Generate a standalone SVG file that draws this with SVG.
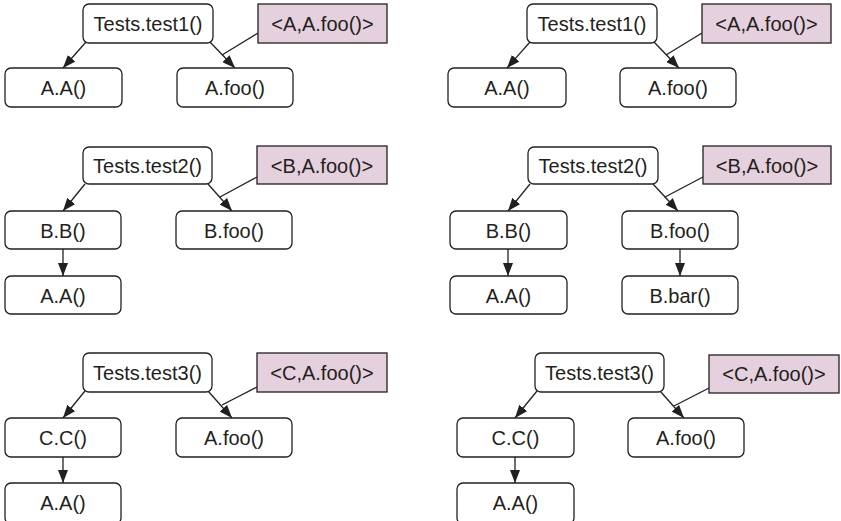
<svg xmlns="http://www.w3.org/2000/svg" width="841" height="521" viewBox="0 0 841 521">
<style>
.n rect{fill:#fff;stroke:#231f20;stroke-width:1.3}
.a rect{fill:#e5d1dd;stroke:#231f20;stroke-width:1.3}
text{font-family:"Liberation Sans",Arial,sans-serif;font-size:20px;fill:#231f20;text-anchor:middle}
.c line{stroke:#231f20;stroke-width:1.3}
.c .e{marker-end:url(#ah)}
</style>
<defs>
<marker id="ah" markerUnits="userSpaceOnUse" markerWidth="13" markerHeight="10" viewBox="0 0 13 10" refX="13" refY="5" orient="auto">
<path d="M0,0 L13,5 L0,10 z" fill="#231f20"/>
</marker>
</defs>
<rect width="841" height="521" fill="#fff"/>

<!-- Panel 1 left -->
<g id="p1l">
<g class="c" id="p1l-conn">
<line class="e" x1="86" y1="42" x2="63" y2="68"/>
<line class="e" x1="210" y1="42" x2="235" y2="68"/>
<line x1="258" y1="33" x2="222" y2="55"/>
</g>
<g class="n" id="p1l-test1"><rect x="83" y="4" width="130" height="39" rx="6"/><text x="148" y="31">Tests.test1()</text></g>
<g class="a" id="p1l-ann"><rect x="258" y="4" width="129" height="39"/><text x="322.5" y="31">&lt;A,A.foo()&gt;</text></g>
<g class="n" id="p1l-AA"><rect x="5" y="68" width="117" height="39" rx="6"/><text x="63.5" y="95">A.A()</text></g>
<g class="n" id="p1l-Afoo"><rect x="177" y="68" width="116" height="39" rx="6"/><text x="235" y="95">A.foo()</text></g>
</g>

<!-- Panel 1 right -->
<g id="p1r" transform="translate(444,0)">
<g class="c" id="p1r-conn">
<line class="e" x1="86" y1="42" x2="63" y2="68"/>
<line class="e" x1="210" y1="42" x2="235" y2="68"/>
<line x1="258" y1="33" x2="222" y2="55"/>
</g>
<g class="n" id="p1r-test1"><rect x="83" y="4" width="130" height="39" rx="6"/><text x="148" y="31">Tests.test1()</text></g>
<g class="a" id="p1r-ann"><rect x="258" y="4" width="129" height="39"/><text x="322.5" y="31">&lt;A,A.foo()&gt;</text></g>
<g class="n" id="p1r-AA"><rect x="4" y="68" width="118" height="39" rx="6"/><text x="63" y="95">A.A()</text></g>
<g class="n" id="p1r-Afoo"><rect x="176" y="68" width="116" height="39" rx="6"/><text x="234" y="95">A.foo()</text></g>
</g>

<!-- Panel 2 left -->
<g id="p2l">
<g class="c" id="p2l-conn">
<line class="e" x1="85" y1="184" x2="63" y2="211"/>
<line class="e" x1="208" y1="184" x2="232" y2="211"/>
<line x1="257" y1="177" x2="220" y2="197"/>
<line class="e" x1="63" y1="249" x2="63" y2="276"/>
</g>
<g class="n" id="p2l-test2"><rect x="83" y="147" width="129" height="37" rx="6"/><text x="147.5" y="173">Tests.test2()</text></g>
<g class="a" id="p2l-ann"><rect x="257" y="146" width="130" height="38"/><text x="322" y="173">&lt;B,A.foo()&gt;</text></g>
<g class="n" id="p2l-BB"><rect x="5" y="211" width="116" height="38" rx="6"/><text x="63" y="237.5">B.B()</text></g>
<g class="n" id="p2l-Bfoo"><rect x="176" y="211" width="116" height="38" rx="6"/><text x="234" y="237.5">B.foo()</text></g>
<g class="n" id="p2l-AA"><rect x="5" y="276" width="116" height="38" rx="6"/><text x="63" y="302.5">A.A()</text></g>
</g>

<!-- Panel 2 right -->
<g id="p2r" transform="translate(445,0)">
<g class="c" id="p2r-conn">
<line class="e" x1="85" y1="184" x2="63" y2="211"/>
<line class="e" x1="208" y1="184" x2="233" y2="211"/>
<line x1="258" y1="177" x2="220" y2="197"/>
<line class="e" x1="63" y1="249" x2="63" y2="276"/>
<line class="e" x1="235" y1="249" x2="235" y2="276"/>
</g>
<g class="n" id="p2r-test2"><rect x="83" y="147" width="130" height="37" rx="6"/><text x="148" y="173">Tests.test2()</text></g>
<g class="a" id="p2r-ann"><rect x="258" y="146" width="128" height="38"/><text x="322" y="173">&lt;B,A.foo()&gt;</text></g>
<g class="n" id="p2r-BB"><rect x="5" y="211" width="117" height="38" rx="6"/><text x="63.5" y="237.5">B.B()</text></g>
<g class="n" id="p2r-Bfoo"><rect x="177" y="211" width="116" height="38" rx="6"/><text x="235" y="237.5">B.foo()</text></g>
<g class="n" id="p2r-AA"><rect x="5" y="276" width="117" height="38" rx="6"/><text x="63.5" y="302.5">A.A()</text></g>
<g class="n" id="p2r-Bbar"><rect x="177" y="276" width="116" height="38" rx="6"/><text x="235" y="302.5">B.bar()</text></g>
</g>

<!-- Panel 3 left -->
<g id="p3l">
<g class="c" id="p3l-conn">
<line class="e" x1="85" y1="391" x2="63" y2="418"/>
<line class="e" x1="208" y1="391" x2="232" y2="418"/>
<line x1="257" y1="387" x2="222" y2="405"/>
<line class="e" x1="63" y1="457" x2="63" y2="483"/>
</g>
<g class="n" id="p3l-test3"><rect x="83" y="353" width="129" height="39" rx="6"/><text x="147.5" y="380">Tests.test3()</text></g>
<g class="a" id="p3l-ann"><rect x="257" y="353" width="130" height="39"/><text x="322" y="380">&lt;C,A.foo()&gt;</text></g>
<g class="n" id="p3l-CC"><rect x="5" y="418" width="116" height="39" rx="6"/><text x="63" y="445">C.C()</text></g>
<g class="n" id="p3l-Afoo"><rect x="176" y="418" width="116" height="39" rx="6"/><text x="234" y="445">A.foo()</text></g>
<g class="n" id="p3l-AA"><rect x="5" y="483" width="116" height="41" rx="6"/><text x="63" y="510">A.A()</text></g>
</g>

<!-- Panel 3 right -->
<g id="p3r" transform="translate(452,0)">
<g class="c" id="p3r-conn">
<line class="e" x1="85" y1="391" x2="63" y2="418"/>
<line class="e" x1="208" y1="391" x2="232" y2="418"/>
<line x1="257" y1="388" x2="222" y2="406"/>
<line class="e" x1="63" y1="457" x2="63" y2="483"/>
</g>
<g class="n" id="p3r-test3"><rect x="83" y="353" width="129" height="39" rx="6"/><text x="147.5" y="380">Tests.test3()</text></g>
<g class="a" id="p3r-ann"><rect x="257" y="355" width="130" height="38"/><text x="322" y="381">&lt;C,A.foo()&gt;</text></g>
<g class="n" id="p3r-CC"><rect x="5" y="418" width="117" height="39" rx="6"/><text x="63.5" y="445">C.C()</text></g>
<g class="n" id="p3r-Afoo"><rect x="176" y="418" width="116" height="39" rx="6"/><text x="234" y="445">A.foo()</text></g>
<g class="n" id="p3r-AA"><rect x="5" y="483" width="117" height="41" rx="6"/><text x="63.5" y="510">A.A()</text></g>
</g>
</svg>
